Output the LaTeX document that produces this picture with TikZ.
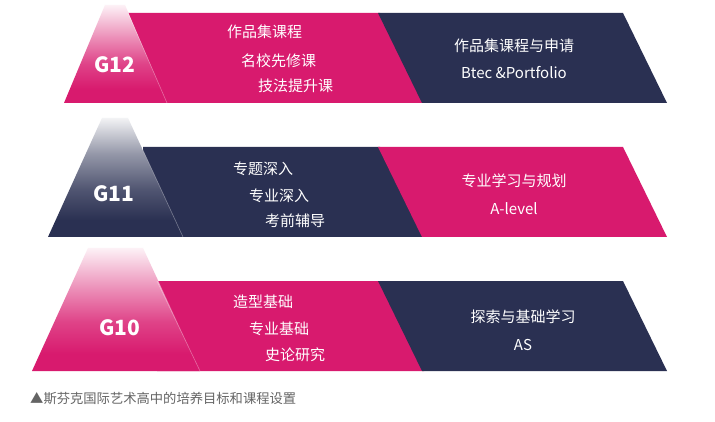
\documentclass[tikz,border=0pt]{standalone}
\usepackage{fontspec}
\setmainfont{Noto Sans CJK SC}
\definecolor{pk}{RGB}{216,26,110}
\definecolor{nv}{RGB}{42,48,82}
\definecolor{capgray}{RGB}{100,100,100}
\pgfdeclareverticalshading{pinkfade}{100bp}{color(0bp)=(pk); color(32bp)=(pk); color(45bp)=(pk!82!white); color(58bp)=(pk!50!white); color(75bp)=(pk!6!white); color(100bp)=(pk!6!white)}
\pgfdeclareverticalshading{navyfade}{100bp}{color(0bp)=(nv); color(32bp)=(nv); color(45bp)=(nv!82!white); color(60bp)=(nv!50!white); color(75bp)=(nv!6!white); color(100bp)=(nv!6!white)}
\begin{document}
\begin{tikzpicture}[x=1pt,y=-1pt,
  ltxt/.style={text=white, font=\fontsize{15}{18}\selectfont, inner sep=0pt, anchor=base west},
  rtxt/.style={text=white, font=\fontsize{15}{18}\selectfont, inner sep=0pt, anchor=base},
  glab/.style={text=white, font=\fontsize{21}{24}\selectfont\bfseries, inner sep=0pt, anchor=base},
  triedge/.style={draw=white, draw opacity=0.35, line width=0.6pt}]
\fill[white] (0,0) rectangle (715,422);
\path[use as bounding box] (0,0) rectangle (715,422);
% G12 band
\fill[pk] (127,13) -- (380,13) -- (424,103) -- (127,103) -- cycle;
\fill[nv] (378,13) -- (623,13) -- (667,103) -- (422,103) -- cycle;
\shade[shading=pinkfade] (105,5) -- (125,5) -- (167,103) -- (64,103) -- cycle;
\draw[triedge] (128,13) -- (167,103);
% G11 band
\fill[nv] (143,147) -- (380,147) -- (424,237) -- (143,237) -- cycle;
\fill[pk] (378,147) -- (623,147) -- (667,237) -- (422,237) -- cycle;
\shade[shading=navyfade] (102,118) -- (128,118) -- (183,237) -- (48,237) -- cycle;
\draw[triedge] (142,148) -- (183,237);
% G10 band
\fill[pk] (157,281) -- (380,281) -- (424,371) -- (157,371) -- cycle;
\fill[nv] (378,281) -- (623,281) -- (667,371) -- (422,371) -- cycle;
\shade[shading=pinkfade] (88,248) -- (143,248) -- (200,371) -- (32,371) -- cycle;
\draw[triedge] (157,281) -- (200,371);
% labels
\node[glab] (g12) at (114.5,73) {G12};
\node[glab] (g11) at (114,202) {G11};
\node[glab] (g10) at (119.5,335) {G10};
\node[ltxt] (a1) at (227,38) {作品集课程};
\node[ltxt] (a2) at (241,66.5) {名校先修课};
\node[ltxt] (a3) at (258,92) {技法提升课};
\node[rtxt] (ar1) at (514,52) {作品集课程与申请};
\node[rtxt] (ar2) at (514,78.5) {Btec \&Portfolio};
\node[ltxt] (b1) at (233,174.5) {专题深入};
\node[ltxt] (b2) at (249,202) {专业深入};
\node[ltxt] (b3) at (265,227) {考前辅导};
\node[rtxt] (br1) at (514,187) {专业学习与规划};
\node[rtxt] (br2) at (514,214.5) {A-level};
\node[ltxt] (c1) at (233,307) {造型基础};
\node[ltxt] (c2) at (249,334) {专业基础};
\node[ltxt] (c3) at (265,360) {史论研究};
\node[rtxt] (cr1) at (523,322.5) {探索与基础学习};
\node[rtxt] (cr2) at (523,350) {AS};
\node[text=capgray, font=\fontsize{13.3}{16}\selectfont, inner sep=0pt, anchor=base west] (cap) at (30,403) {▲斯芬克国际艺术高中的培养目标和课程设置};
\end{tikzpicture}
\end{document}
